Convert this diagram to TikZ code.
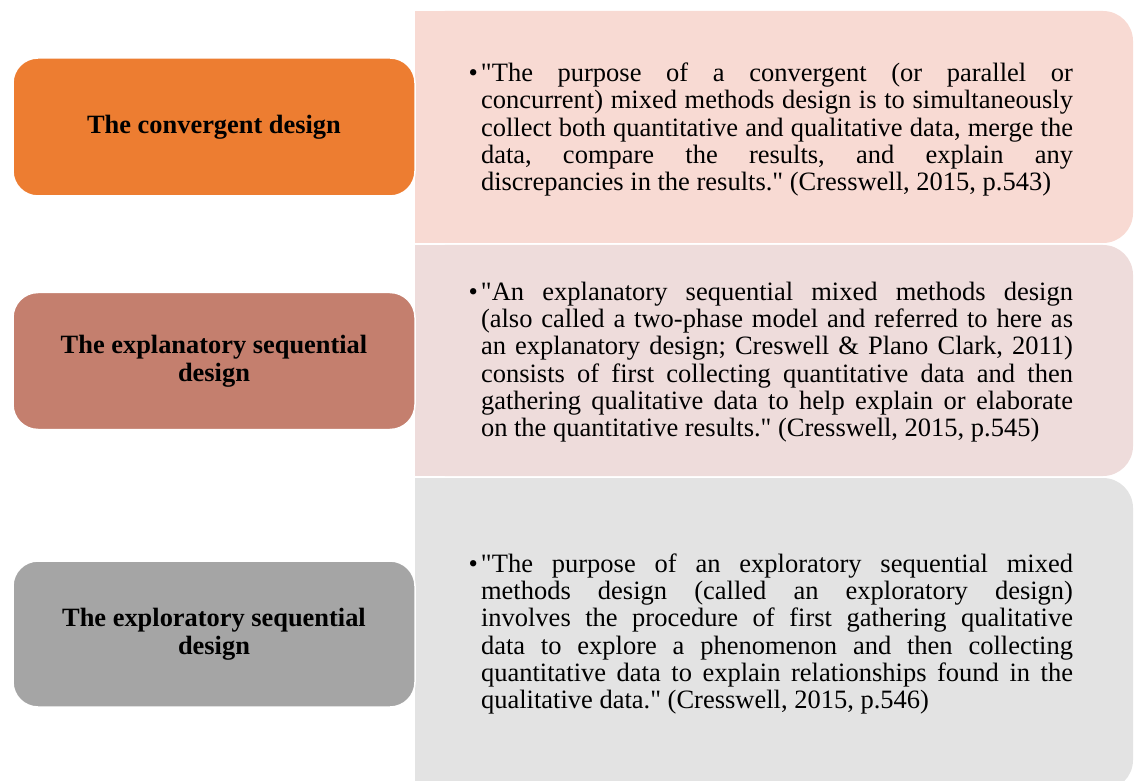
\documentclass[tikz,border=0pt]{standalone}
\usepackage{fontspec}
\setmainfont{Liberation Serif}
\usetikzlibrary{positioning}

\definecolor{orangebox}{HTML}{ED7D31}
\definecolor{orangeback}{HTML}{F8DAD3}
\definecolor{rosebox}{HTML}{C47F6E}
\definecolor{roseback}{HTML}{EEDCDB}
\definecolor{greybox}{HTML}{A5A5A5}
\definecolor{greyback}{HTML}{E3E3E3}

\newcommand{\quotebullet}{\leavevmode\llap{\textbullet\hspace{3pt}}}
\newcommand{\dq}{\textquotedbl}
\frenchspacing

\begin{document}
\begin{tikzpicture} [x = 1pt, y = 1pt,
  design/.style = {rounded corners = 25pt, draw = white, line width = 1.5pt,
    minimum width = 402pt, align = center,
    font = \fontsize{26.4}{28}\selectfont\bfseries},
  quote/.style = {text width = 592pt, align = justify, inner sep = 0pt,
    font = \fontsize{26.5}{27.3}\selectfont}]

\useasboundingbox (0,0) rectangle (1134,780);

% back panels, rounded on the right only
\begin{scope}
\clip (0,0) rectangle (1134,780);
\fill [orangeback, rounded corners = 30pt] (415,537) rectangle (1133,769);
\fill [orangeback] (415,537) rectangle (480,769);
\fill [roseback, rounded corners = 30pt] (415,304) rectangle (1133,535);
\fill [roseback] (415,304) rectangle (480,535);
\fill [greyback, rounded corners = 30pt] (415,-10) rectangle (1133,302);
\fill [greyback] (415,-10) rectangle (480,302);
\end{scope}

% designs
\node (d1) [design, fill = orangebox, minimum height = 138pt] at (214,653)
  {The convergent design};
\node (d2) [design, fill = rosebox, minimum height = 137pt] at (214,419)
  {The explanatory sequential\\design};
\node (d3) [design, fill = greybox, minimum height = 146pt] at (214,146)
  {The exploratory sequential\\design};

% quotes
\node (t1) [quote] at (777,650.5) {\quotebullet\dq The purpose of a convergent (or parallel or\linebreak
  concurrent) mixed methods design is to simultaneously\linebreak
  collect both quantitative and qualitative data, merge the\linebreak
  data, compare the results, and explain any\linebreak
  discrepancies in the results.\dq{} (Cresswell, 2015, p.543)};

\node (t2) [quote] at (777,418) {\quotebullet\dq An explanatory sequential mixed methods design\linebreak
  (also called a two-phase model and referred to here as\linebreak
  an explanatory design; Creswell \& Plano Clark, 2011)\linebreak
  consists of first collecting quantitative data and then\linebreak
  gathering qualitative data to help explain or elaborate\linebreak
  on the quantitative results.\dq{} (Cresswell, 2015, p.545)};

\node (t3) [quote] at (777,146) {\quotebullet\dq The purpose of an exploratory sequential mixed\linebreak
  methods design (called an exploratory design)\linebreak
  involves the procedure of first gathering qualitative\linebreak
  data to explore a phenomenon and then collecting\linebreak
  quantitative data to explain relationships found in the\linebreak
  qualitative data.\dq{} (Cresswell, 2015, p.546)};

\end{tikzpicture}
\end{document}
